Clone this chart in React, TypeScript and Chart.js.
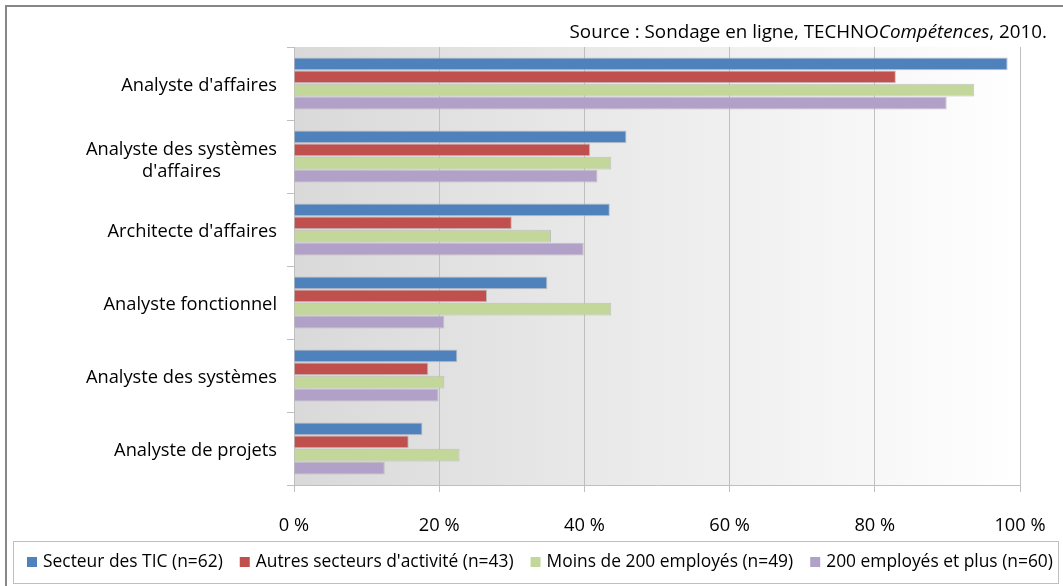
import { useEffect, useRef } from 'react';
import { Chart, registerables } from 'chart.js';

Chart.register(...registerables);

const categories: string[][] = [
  ["Analyste d'affaires"],
  ['Analyste des systèmes', "d'affaires"],
  ["Architecte d'affaires"],
  ['Analyste fonctionnel'],
  ['Analyste des systèmes'],
  ['Analyste de projets'],
];

const seriesNames = [
  'Secteur des TIC (n=62)',
  "Autres secteurs d'activité (n=43)",
  'Moins de 200 employés (n=49)',
  '200 employés et plus (n=60)',
];

const secteurTIC = [98.3, 45.8, 43.5, 34.9, 22.5, 17.7];
const autresSecteurs = [82.9, 40.8, 30.0, 26.6, 18.5, 15.8];
const moins200 = [93.7, 43.7, 35.4, 43.7, 20.7, 22.8];
const plus200 = [89.9, 41.8, 39.9, 20.7, 19.9, 12.5];

const seriesColors = ['#4F81BD', '#C0504D', '#C4D79B', '#B1A0C7'];

const xTicks = [0, 20, 40, 60, 80, 100];

const sourceParts: { text: string; italic: boolean }[] = [
  { text: 'Source : Sondage en ligne, TECHNO', italic: false },
  { text: 'Compétences', italic: true },
  { text: ', 2010.', italic: false },
];

const FONT = "'Open Sans', sans-serif";

const backgroundPlugin = {
  id: 'bgPlugin',
  beforeDraw(chart: any) {
    const { ctx, chartArea } = chart;
    const { left, top, right, bottom } = chartArea;
    ctx.save();
    ctx.fillStyle = '#FFFFFF';
    ctx.fillRect(0, 0, chart.width, chart.height);
    const g = ctx.createLinearGradient(left, 0, right, 0);
    g.addColorStop(0, '#D9D9D9');
    g.addColorStop(1, '#FFFFFF');
    ctx.fillStyle = g;
    ctx.fillRect(left, top, right - left, bottom - top);
    ctx.strokeStyle = '#878787';
    ctx.lineWidth = 2;
    ctx.strokeRect(6, 6, chart.width + 20, chart.height + 20);
    ctx.restore();
  },
};

const textPlugin = {
  id: 'textPlugin',
  afterDraw(chart: any) {
    const { ctx } = chart;
    const yScale = chart.scales.y;
    ctx.save();
    ctx.fillStyle = '#000000';
    ctx.font = `18.3px ${FONT}`;
    ctx.textBaseline = 'alphabetic';
    ctx.textAlign = 'center';
    const rightEdge = yScale.right - 17;
    const lineH = 22;
    categories.forEach((lines, i) => {
      const yc = yScale.getPixelForValue(i);
      const widest = Math.max(...lines.map((l) => ctx.measureText(l).width));
      const cx = rightEdge - widest / 2;
      const n = lines.length;
      lines.forEach((l, k) => {
        const by = yc + 7 + (k - (n - 1) / 2) * lineH + (n - 1) * 2.5;
        ctx.fillText(l, cx, by);
      });
    });

    ctx.textAlign = 'left';
    const srcFont = (it: boolean) => `${it ? 'italic ' : ''}18.8px ${FONT}`;
    let total = 0;
    sourceParts.forEach((p) => {
      ctx.font = srcFont(p.italic);
      total += ctx.measureText(p.text).width;
    });
    let sx = 1047 - total;
    sourceParts.forEach((p) => {
      ctx.font = srcFont(p.italic);
      ctx.fillText(p.text, sx, 38);
      sx += ctx.measureText(p.text).width;
    });

    ctx.strokeStyle = '#BFBFBF';
    ctx.lineWidth = 1;
    ctx.strokeRect(13.5, 541.5, 1045, 42);
    ctx.font = `17.4px ${FONT}`;
    ctx.textBaseline = 'middle';
    let lx = 27;
    seriesNames.forEach((name, i) => {
      ctx.fillStyle = seriesColors[i];
      ctx.fillRect(lx, 557, 10, 10);
      ctx.fillStyle = '#000000';
      ctx.fillText(name, lx + 16, 562.5);
      lx += 16 + ctx.measureText(name).width + 17;
    });
    ctx.restore();
  },
};

export default function App() {
  const ref = useRef<HTMLCanvasElement | null>(null);

  useEffect(() => {
    if (!ref.current) return;
    const dataSeries = [secteurTIC, autresSecteurs, moins200, plus200];
    const chart = new Chart(ref.current, {
      type: 'bar',
      data: {
        labels: categories,
        datasets: dataSeries.map((d, i) => ({
          label: seriesNames[i],
          data: d,
          backgroundColor: seriesColors[i],
          borderColor: 'rgba(185,185,185,0.85)',
          borderWidth: 1,
          categoryPercentage: 0.72,
          barPercentage: 0.97,
        })),
      },
      options: {
        indexAxis: 'y',
        responsive: false,
        animation: false,
        devicePixelRatio: 1,
        layout: { padding: { top: 47, right: 43, left: 0, bottom: 0 } },
        plugins: {
          legend: { display: false },
          tooltip: { enabled: false },
          title: { display: false },
        },
        scales: {
          x: {
            type: 'linear',
            position: 'bottom',
            min: 0,
            max: 100,
            afterBuildTicks: (s: any) => {
              s.ticks = xTicks.map((v) => ({ value: v }));
            },
            afterFit: (s: any) => {
              s.height = 101;
              s.paddingLeft = 0;
              s.paddingRight = 0;
            },
            ticks: {
              callback: (v: any) => `${v} %`,
              color: '#000000',
              font: { family: FONT, size: 18.3 },
              padding: 23,
              maxRotation: 0,
            },
            grid: {
              color: '#BFBFBF',
              lineWidth: 1,
              tickLength: 7,
              drawTicks: true,
            },
            border: { display: true, color: '#BFBFBF' },
          },
          y: {
            type: 'category',
            position: 'left',
            afterFit: (s: any) => {
              s.width = 294;
              s.paddingTop = 0;
              s.paddingBottom = 0;
            },
            ticks: { display: false },
            grid: {
              offset: true,
              drawOnChartArea: false,
              drawTicks: true,
              tickLength: 7,
              color: '#BFBFBF',
            },
            border: { display: true, color: '#BFBFBF' },
          },
        },
      },
      plugins: [backgroundPlugin, textPlugin],
    } as any);
    return () => chart.destroy();
  }, []);

  return (
    <div
      style={{
        position: 'absolute',
        left: 0,
        top: 0,
        width: 1063,
        height: 586,
        background: '#ffffff',
        overflow: 'hidden',
      }}
    >
      <canvas
        ref={ref}
        width={1063}
        height={586}
        style={{ display: 'block', width: 1063, height: 586 }}
      />
    </div>
  );
}
